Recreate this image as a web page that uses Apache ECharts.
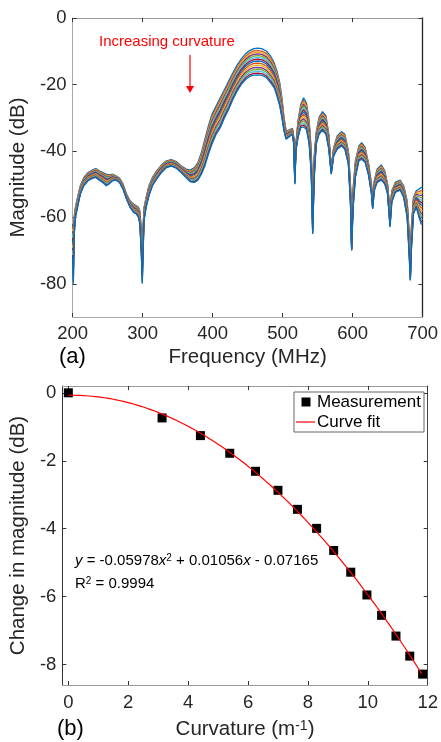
<!DOCTYPE html>
<html>
<head>
<meta charset="utf-8">
<script src="https://cdn.jsdelivr.net/npm/echarts@6/dist/echarts.min.js"></script>
<style>
html, body { margin: 0; padding: 0; background: #fff; }
#main { width: 441px; height: 742px; }
</style>
</head>
<body>
<div id="main"></div>
<script>
// (a) spectra: frequency grid, the flat (curvature 0) curve and the most bent curve
var freq = [200, 201, 202, 204, 207, 211, 216, 222, 228, 233, 238, 243, 248, 252, 257, 262, 267, 272, 277, 282,
    287, 291, 294, 296, 298, 299.5, 300.5, 302, 305, 309, 314, 320, 327, 334, 341, 348, 355, 362, 368, 374,
    379, 384, 389, 394, 399, 405, 411, 417, 423, 429, 435, 441, 447, 453, 459, 465, 471, 477, 483, 488,
    492, 496, 499, 502, 505, 508, 511, 514, 516, 517.5, 519, 522, 526, 530, 534, 538, 541, 543, 545, 548,
    552, 557, 562, 566, 569.5, 573, 578, 584, 589, 594, 597, 598.7, 600.5, 604, 609, 613, 618, 623, 627, 628.7,
    631, 635, 641, 646, 650, 653.5, 656, 661, 668, 673, 678, 681, 682.5, 684, 687, 691, 695, 698, 700];
var flatCurve = [-62, -68, -60, -57, -54, -50.5, -48, -46.5, -45.8, -45.3, -46, -46.5, -47, -47.2, -47, -47.5, -48.2, -50, -53, -55,
    -56, -56.5, -57, -58, -63, -72, -64, -57, -54, -50.5, -48, -46, -44.2, -43, -42.6, -43.2, -44.5, -45.5, -45.8, -45,
    -43.5, -40.5, -36.5, -32.5, -29, -26.5, -24, -21.5, -19, -16.5, -14.2, -12.3, -10.8, -9.8, -9.2, -9.1, -9.3, -10, -11.5, -13.5,
    -16, -19.5, -24, -30, -34, -33.8, -33.5, -33.2, -36, -47, -38, -31, -26, -24, -25.5, -31, -40, -60, -42, -34.5,
    -30, -28.2, -29.5, -35, -45, -39, -35.5, -34.2, -35, -40, -50, -68, -52, -43, -38.5, -37.5, -39, -44, -50, -55,
    -49, -45.5, -44.2, -46, -50, -58, -52, -49.5, -48.8, -50.5, -55, -65, -76, -63, -54, -52, -51.5, -51, -51];
var bentCurve = [-72, -80, -66, -60, -57, -53, -50.5, -49, -48.3, -48, -48.8, -49.5, -50.5, -50, -49, -48.8, -49.5, -51.5, -54.5, -57,
    -58.5, -59, -60, -62, -70, -80, -72, -61, -57, -53.5, -50.5, -48.5, -46.5, -45, -44.6, -45.2, -46.5, -48, -49.3, -49.5,
    -48.8, -47, -44.5, -41, -38, -35, -33, -30, -27.5, -24.5, -22, -20, -18.5, -17.6, -17.2, -17.1, -17.3, -18, -19.5, -21,
    -23.5, -26.5, -30, -34, -36.5, -36, -35.5, -35, -38, -50, -40, -36, -33, -32.8, -33.5, -38, -47, -65, -49, -38,
    -35, -33.8, -35, -39.5, -47, -41.5, -39.5, -38.5, -39.5, -44, -56, -70, -58, -48, -43, -42.5, -43.5, -47.5, -53, -57.5,
    -52, -49.5, -48.8, -50, -53, -63, -55.5, -52.5, -51.8, -54, -60, -72, -79, -70, -59, -57, -60, -62, -62];

// (b) measured change in magnitude at the main peak vs curvature
var curvature = [0, 3.13, 4.41, 5.39, 6.25, 7.0, 7.65, 8.29, 8.86, 9.43, 9.97, 10.46, 10.94, 11.40, 11.83];
var magChange = [0, -0.74, -1.26, -1.78, -2.31, -2.87, -3.43, -3.99, -4.64, -5.28, -5.95, -6.55, -7.16, -7.75, -8.28];
var fitCoef = [-0.05978, 0.01056, -0.07165];

var freqTicks = [200, 300, 400, 500, 600, 700];
var magTicks = [0, -20, -40, -60, -80];
var curvTicks = [0, 2, 4, 6, 8, 10, 12];
var changeTicks = [0, -2, -4, -6, -8];

var matlabColors = ['#0072BD', '#D95319', '#EDB120', '#7E2F8E', '#77AC30', '#4DBEEE', '#A2142F'];
var FONT = '"Liberation Sans", Arial, Helvetica, sans-serif';
var TXT = '#262626';

var chart = echarts.init(document.getElementById('main'));

var series = [];
var last = magChange[magChange.length - 1];
for (var k = 0; k < magChange.length; k++) {
    var frac = magChange[k] / last;
    var pts = [];
    for (var i = 0; i < freq.length; i++) {
        pts.push([freq[i], flatCurve[i] + (bentCurve[i] - flatCurve[i]) * frac]);
    }
    series.push({
        name: 'spectrum ' + (k + 1),
        type: 'line',
        xAxisIndex: 0, yAxisIndex: 0,
        data: pts,
        showSymbol: false,
        symbol: 'none',
        lineStyle: {width: 1.3, color: matlabColors[k % 7]},
        itemStyle: {color: matlabColors[k % 7]},
        silent: true
    });
}

var fitPts = [];
for (var x = 0; x <= 11.85; x += 0.05) {
    fitPts.push([x, fitCoef[0] * x * x + fitCoef[1] * x + fitCoef[2]]);
}

series.push({
    name: 'Measurement',
    type: 'scatter',
    xAxisIndex: 2, yAxisIndex: 2,
    data: curvature.map(function (c, i) { return [c, magChange[i]]; }),
    symbol: 'rect',
    symbolSize: 9,
    itemStyle: {color: '#000', opacity: 1},
    z: 3
});
series.push({
    name: 'Curve fit',
    type: 'line',
    xAxisIndex: 2, yAxisIndex: 2,
    data: fitPts,
    showSymbol: false,
    symbol: 'none',
    lineStyle: {width: 1.2, color: '#ff0000'},
    itemStyle: {color: '#ff0000'},
    z: 4
});

function ticks(vals, color) {
    return {show: true, inside: true, length: 4, customValues: vals, lineStyle: {color: color || '#333'}};
}
function labels(vals, margin) {
    return {show: true, color: TXT, fontSize: 18.5, fontFamily: FONT, margin: margin, customValues: vals};
}

option = {
    animation: false,
    backgroundColor: '#fff',
    grid: [
        {left: 64, top: 18, width: 362, height: 299},
        {left: 58, top: 386, width: 371, height: 299}
    ],
    xAxis: [
        {
            gridIndex: 0, type: 'value', min: 200, max: 700, interval: 100, position: 'bottom',
            axisLine: {onZero: false, lineStyle: {color: '#aaa', width: 1}},
            axisTick: ticks(freqTicks),
            axisLabel: labels(freqTicks, 7),
            splitLine: {show: false},
            name: 'Frequency (MHz)', nameLocation: 'middle', nameGap: 30,
            nameTextStyle: {color: TXT, fontSize: 20.5, fontFamily: FONT}
        },
        {
            gridIndex: 0, type: 'value', min: 200, max: 700, interval: 100, position: 'top',
            axisLine: {onZero: false, lineStyle: {color: '#999', width: 1}},
            axisTick: ticks(freqTicks),
            axisLabel: {show: false},
            splitLine: {show: false}
        },
        {
            gridIndex: 1, type: 'value', min: -0.2, max: 12, position: 'bottom',
            axisLine: {onZero: false, lineStyle: {color: '#999', width: 1}},
            axisTick: ticks(curvTicks),
            axisLabel: labels(curvTicks, 8),
            splitLine: {show: false},
            name: 'Curvature (m{s|-1})', nameLocation: 'middle', nameGap: 34,
            nameTextStyle: {
                color: TXT, fontSize: 20.5, fontFamily: FONT,
                rich: {s: {fontSize: 14, fontFamily: FONT, color: TXT, verticalAlign: 'top', lineHeight: 14}}
            }
        },
        {
            gridIndex: 1, type: 'value', min: -0.2, max: 12, position: 'top',
            axisLine: {onZero: false, lineStyle: {color: '#999', width: 1}},
            axisTick: ticks(curvTicks),
            axisLabel: {show: false},
            splitLine: {show: false}
        }
    ],
    yAxis: [
        {
            gridIndex: 0, type: 'value', min: -90, max: 0, position: 'left',
            axisLine: {onZero: false, lineStyle: {color: '#aaa', width: 1}},
            axisTick: ticks(magTicks),
            axisLabel: labels(magTicks, 6),
            splitLine: {show: false},
            name: 'Magnitude (dB)', nameLocation: 'middle', nameGap: 34,
            nameTextStyle: {color: TXT, fontSize: 20.5, fontFamily: FONT}
        },
        {
            gridIndex: 0, type: 'value', min: -90, max: 0, position: 'right',
            axisLine: {onZero: false, lineStyle: {color: '#222', width: 1.3}},
            axisTick: ticks(magTicks),
            axisLabel: {show: false},
            splitLine: {show: false}
        },
        {
            gridIndex: 1, type: 'value', min: -8.6, max: 0.2, position: 'left',
            axisLine: {onZero: false, lineStyle: {color: '#333', width: 1}},
            axisTick: ticks(changeTicks),
            axisLabel: labels(changeTicks, 6),
            splitLine: {show: false},
            name: 'Change in magnitude (dB)', nameLocation: 'middle', nameGap: 24,
            nameTextStyle: {color: TXT, fontSize: 20.5, fontFamily: FONT}
        },
        {
            gridIndex: 1, type: 'value', min: -8.6, max: 0.2, position: 'right',
            axisLine: {onZero: false, lineStyle: {color: '#444', width: 1}},
            axisTick: ticks(changeTicks),
            axisLabel: {show: false},
            splitLine: {show: false}
        }
    ],
    graphic: [
        {type: 'text', left: 99, top: 34, style: {text: 'Increasing curvature', fill: '#ff0000', fontSize: 15, fontFamily: FONT}},
        {type: 'line', shape: {x1: 190, y1: 55, x2: 190, y2: 87}, style: {stroke: '#ff0000', lineWidth: 1.2}},
        {type: 'polygon', shape: {points: [[186, 86], [194, 86], [190, 93]]}, style: {fill: '#ff0000'}},
        {type: 'text', left: 59, top: 346, style: {text: '(a)', fill: '#000', fontSize: 22, fontFamily: FONT}},
        {type: 'text', left: 57, top: 718, style: {text: '(b)', fill: '#000', fontSize: 22, fontFamily: FONT}},
        // legend box of panel (b)
        {type: 'rect', shape: {x: 294, y: 392, width: 130, height: 40}, style: {fill: '#fff', stroke: '#666', lineWidth: 1}, z: 10},
        {type: 'rect', shape: {x: 301.5, y: 397.5, width: 9, height: 9}, style: {fill: '#000'}, z: 11},
        {type: 'line', shape: {x1: 296, y1: 422, x2: 315, y2: 422}, style: {stroke: '#ff0000', lineWidth: 1.2}, z: 11},
        {type: 'text', x: 317, y: 402, style: {text: 'Measurement', fill: '#000', fontSize: 17, fontFamily: FONT, verticalAlign: 'middle'}, z: 11},
        {type: 'text', x: 317, y: 422, style: {text: 'Curve fit', fill: '#000', fontSize: 17, fontFamily: FONT, verticalAlign: 'middle'}, z: 11},
        {
            type: 'text', left: 75, top: 553,
            style: {
                text: '{i|y} = -0.05978{i|x}{s|2} + 0.01056{i|x} - 0.07165',
                fill: '#000', fontSize: 15, fontFamily: FONT,
                rich: {
                    i: {fontStyle: 'italic', fontSize: 15, fontFamily: FONT, fill: '#000'},
                    s: {fontSize: 10, fontFamily: FONT, fill: '#000', verticalAlign: 'top'}
                }
            }
        },
        {
            type: 'text', left: 75, top: 576,
            style: {
                text: 'R{s|2} = 0.9994',
                fill: '#000', fontSize: 15, fontFamily: FONT,
                rich: {s: {fontSize: 10, fontFamily: FONT, fill: '#000', verticalAlign: 'top'}}
            }
        }
    ],
    series: series
};

chart.setOption(option);
</script>
</body>
</html>
